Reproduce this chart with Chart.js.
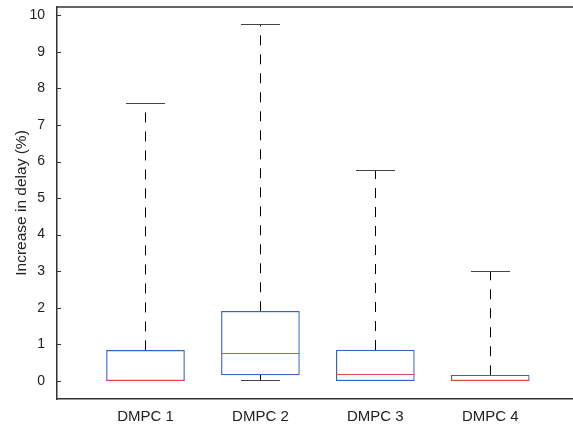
<!DOCTYPE html>
<html>
<head>
<meta charset="utf-8">
<script src="https://cdn.jsdelivr.net/npm/chart.js@4.4.1/dist/chart.umd.min.js"></script>
<style>
  html, body { margin: 0; padding: 0; background: #fff; }
  #wrap { width: 573px; height: 425px; }
</style>
</head>
<body>
<div id="wrap"><canvas id="boxChart" width="573" height="425"></canvas></div>
<script>
// box plot values
const labels = ['DMPC 1', 'DMPC 2', 'DMPC 3', 'DMPC 4'];
const whiskerLow = [0, 0, 0, 0];
const q1 = [0, 0.16, 0, 0];
const median = [0, 0.75, 0.19, 0];
const q3 = [0.83, 1.90, 0.84, 0.15];
const whiskerHigh = [7.60, 9.76, 5.76, 2.99];
const yTicks = [0, 1, 2, 3, 4, 5, 6, 7, 8, 9, 10];

const boxBlue = '#3565c2';
const medianRed = '#e5484b';
const axisColor = '#333';

// boxes are floating bars from q1 to q3
const boxData = labels.map((l, i) => ({ x: i + 1, y: [q1[i], q3[i]] }));

// whiskers, caps and medians, drawn through the chart scales
const boxParts = {
    id: 'boxParts',
    beforeDatasetsDraw(chart) {
        const ctx = chart.ctx;
        const xs = chart.scales.x;
        const ys = chart.scales.y;
        const bars = chart.getDatasetMeta(0).data;
        ctx.save();
        labels.forEach((l, i) => {
            const cx = Math.round(xs.getPixelForValue(i + 1)) + 0.5;
            const half = bars[i].width / 4;
            ctx.strokeStyle = '#000';
            ctx.lineWidth = 1;
            ctx.setLineDash([10, 9]);
            ctx.beginPath();
            ctx.moveTo(cx, ys.getPixelForValue(q3[i]));
            ctx.lineTo(cx, ys.getPixelForValue(whiskerHigh[i]));
            ctx.moveTo(cx, ys.getPixelForValue(q1[i]));
            ctx.lineTo(cx, ys.getPixelForValue(whiskerLow[i]));
            ctx.stroke();
            ctx.setLineDash([]);
            ctx.strokeStyle = '#444';
            ctx.beginPath();
            let yh = Math.round(ys.getPixelForValue(whiskerHigh[i])) + 0.5;
            let yl = Math.round(ys.getPixelForValue(whiskerLow[i])) - 0.5;
            ctx.moveTo(cx - half, yh);
            ctx.lineTo(cx + half, yh);
            ctx.moveTo(cx - half, yl);
            ctx.lineTo(cx + half, yl);
            ctx.stroke();
        });
        ctx.restore();
    },
    afterDatasetsDraw(chart) {
        const ctx = chart.ctx;
        const xs = chart.scales.x;
        const ys = chart.scales.y;
        const bars = chart.getDatasetMeta(0).data;
        const area = chart.chartArea;
        ctx.save();
        labels.forEach((l, i) => {
            const cx = xs.getPixelForValue(i + 1);
            const half = bars[i].width / 2;
            let ym = ys.getPixelForValue(median[i]);
            if (median[i] > q1[i]) ym = Math.round(ym) + 0.5;
            else ym = Math.round(ys.getPixelForValue(q1[i])) - 0.5;
            ctx.strokeStyle = medianRed;
            ctx.lineWidth = 1.2;
            ctx.beginPath();
            ctx.moveTo(cx - half, ym);
            ctx.lineTo(cx + half, ym);
            ctx.stroke();
        });
        // top frame line
        ctx.strokeStyle = axisColor;
        ctx.lineWidth = 1.3;
        ctx.beginPath();
        ctx.moveTo(area.left, area.top);
        ctx.lineTo(area.right, area.top);
        ctx.stroke();
        // y ticks point into the plot
        ctx.lineWidth = 1;
        ctx.beginPath();
        yTicks.forEach(v => {
            const y = Math.round(ys.getPixelForValue(v)) + 0.5;
            ctx.moveTo(area.left, y);
            ctx.lineTo(area.left + 4, y);
        });
        ctx.stroke();
        ctx.restore();
    }
};

const config = {
    type: 'bar',
    data: {
        datasets: [{
            data: boxData,
            backgroundColor: '#fff',
            borderColor: boxBlue,
            borderWidth: 1.2,
            borderSkipped: false,
            barThickness: 78
        }]
    },
    options: {
        responsive: false,
        animation: false,
        layout: { padding: { top: 7, right: 0, bottom: 0, left: 0 } },
        plugins: {
            legend: { display: false },
            tooltip: { enabled: false }
        },
        scales: {
            x: {
                type: 'linear',
                min: 0.23,
                max: 4.72,
                offset: false,
                grid: { display: false, offset: false },
                border: { color: axisColor, width: 1.5 },
                afterBuildTicks: s => { s.ticks = labels.map((l, i) => ({ value: i + 1 })); },
                afterFit: s => { s.height = 26; s.paddingLeft = 0; s.paddingRight = 0; },
                ticks: {
                    padding: 1,
                    maxRotation: 0,
                    autoSkip: false,
                    color: '#222',
                    font: { family: 'Arial, "Liberation Sans"', size: 15 },
                    callback: (v) => labels[Math.round(v) - 1]
                }
            },
            y: {
                min: -0.5,
                max: 10.23,
                grid: { display: false },
                border: { color: axisColor, width: 1.5 },
                afterBuildTicks: s => { s.ticks = yTicks.map(v => ({ value: v })); },
                afterFit: s => { s.width = 57; s.paddingTop = 0; s.paddingBottom = 0; },
                ticks: {
                    padding: 4,
                    color: '#222',
                    font: { family: 'Arial, "Liberation Sans"', size: 14 }
                },
                title: {
                    display: true,
                    text: 'Increase in delay (%)',
                    color: '#222',
                    padding: { top: 12, bottom: 0 },
                    font: { family: 'Arial, "Liberation Sans"', size: 15.5 }
                }
            }
        }
    },
    plugins: [boxParts]
};

const boxChart = new Chart(document.getElementById('boxChart'), config);
</script>
</body>
</html>
